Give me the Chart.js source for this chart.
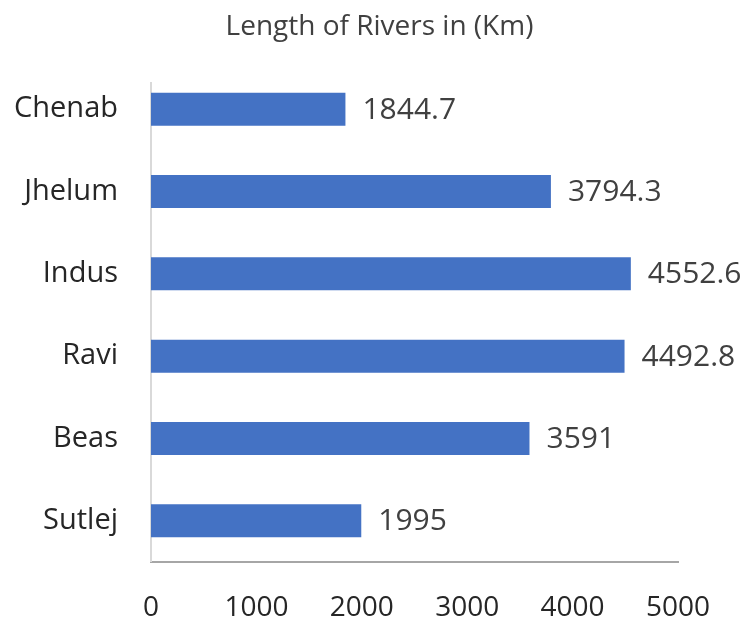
<!DOCTYPE html>
<html>
<head>
<meta charset="utf-8">
<script src="https://cdn.jsdelivr.net/npm/chart.js@4"></script>
<style>
  html, body { margin: 0; padding: 0; background: #fff; }
  #wrap { width: 743px; height: 621px; }
</style>
</head>
<body>
<div id="wrap"><canvas id="myChart" width="743" height="621"></canvas></div>
<script>
const rivers = ["Chenab", "Jhelum", "Indus", "Ravi", "Beas", "Sutlej"];
const lengths = [1844.7, 3794.3, 4552.6, 4492.8, 3591, 1995];
const xTicks = [0, 1000, 2000, 3000, 4000, 5000];
const chartTitle = "Length of Rivers in (Km)";

const FONT = "'Open Sans', 'Noto Sans', sans-serif";

// title drawn by hand so it sits where the original has it (a bit right of centre)
const pageTitle = {
  id: "pageTitle",
  afterDraw(chart) {
    const ctx = chart.ctx;
    ctx.save();
    ctx.font = "28px " + FONT;
    ctx.fillStyle = "#404040";
    ctx.textAlign = "center";
    ctx.textBaseline = "middle";
    ctx.fillText(chartTitle, chart.width / 2 + 8, 27);
    ctx.restore();
  }
};

// value labels to the right of each bar
const barLabels = {
  id: "barLabels",
  afterDatasetsDraw(chart) {
    const ctx = chart.ctx;
    const meta = chart.getDatasetMeta(0);
    ctx.save();
    ctx.font = "30px " + FONT;
    ctx.fillStyle = "#404040";
    ctx.textAlign = "left";
    ctx.textBaseline = "middle";
    meta.data.forEach((bar, i) => {
      ctx.fillText(String(lengths[i]), bar.x + 17, bar.y + 1);
    });
    ctx.restore();
  }
};

// light vertical axis line (starts a little below the plot top, like the original)
const yAxisLine = {
  id: "yAxisLine",
  beforeDatasetsDraw(chart) {
    const { ctx, chartArea } = chart;
    ctx.save();
    ctx.strokeStyle = "#d9d9d9";
    ctx.lineWidth = 2;
    ctx.beginPath();
    ctx.moveTo(chartArea.left, chartArea.top + 14);
    ctx.lineTo(chartArea.left, chartArea.bottom);
    ctx.stroke();
    ctx.restore();
  }
};

const ctx = document.getElementById("myChart").getContext("2d");
const chart = new Chart(ctx, {
  type: "bar",
  data: {
    labels: rivers,
    datasets: [
      {
        label: "Length",
        data: lengths,
        backgroundColor: "#4472C4",
        borderWidth: 0,
        barPercentage: 0.4,
        categoryPercentage: 1
      }
    ]
  },
  options: {
    indexAxis: "y",
    responsive: false,
    animation: false,
    layout: { padding: { left: 0, right: 65, top: 68, bottom: 0 } },
    plugins: {
      legend: { display: false },
      tooltip: { enabled: false },
      title: { display: false }
    },
    scales: {
      x: {
        min: 0,
        max: 5000,
        afterBuildTicks(scale) {
          scale.ticks = xTicks.map(v => ({ value: v }));
        },
        afterFit(scale) { scale.height = 59; },
        grid: { display: false, drawTicks: false },
        border: { display: true, color: "#a6a6a6", width: 2 },
        ticks: {
          padding: 29,
          color: "#262626",
          font: { family: FONT, size: 28 },
          callback: v => String(v)
        }
      },
      y: {
        afterFit(scale) { scale.width = 151; },
        grid: { display: false, drawTicks: false },
        border: { display: false },
        ticks: {
          padding: 33,
          color: "#262626",
          font: { family: FONT, size: 29 }
        }
      }
    }
  },
  plugins: [yAxisLine, barLabels, pageTitle]
});
</script>
</body>
</html>
